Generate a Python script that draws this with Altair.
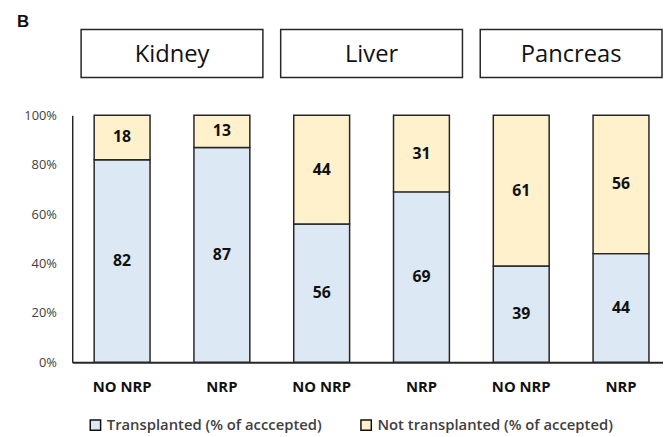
import altair as alt
import pandas as pd

# ---- data ----
organs = ["Kidney", "Kidney", "Liver", "Liver", "Pancreas", "Pancreas"]
groups = ["NO NRP", "NRP", "NO NRP", "NRP", "NO NRP", "NRP"]
transplanted = [82, 87, 56, 69, 39, 44]
not_transplanted = [18, 13, 44, 31, 61, 56]
organ_names = ["Kidney", "Liver", "Pancreas"]
group_names = ["NO NRP", "NRP"]
status_names = ["Transplanted (% of acccepted)", "Not transplanted (% of accepted)"]
y_ticks = [0, 20, 40, 60, 80, 100]

rows = []
for o, g, t, n in zip(organs, groups, transplanted, not_transplanted):
    rows.append({"organ": o, "group": g, "status": status_names[0], "value": t, "ord": 0})
    rows.append({"organ": o, "group": g, "status": status_names[1], "value": n, "ord": 1})
df = pd.DataFrame(rows)
hdr = pd.DataFrame({"organ": organ_names})
lab = pd.DataFrame({"organ": organs, "group": groups})

FONT = "Open Sans"
BLUE = "#DDE8F5"
YELLOW = "#FFF1CC"
EDGE = "#262626"

x_enc = alt.X("organ:N", sort=organ_names,
              scale=alt.Scale(range=[0, 606], paddingInner=0, paddingOuter=0),
              axis=alt.Axis(title=None, labels=False, ticks=False, domainColor=EDGE,
                            domainWidth=2, grid=False))
xo_enc = alt.XOffset("group:N", sort=group_names,
                     scale=alt.Scale(paddingInner=0.44, paddingOuter=0.22))

base = alt.Chart(df).transform_stack(
    stack="value", as_=["y0", "y1"], groupby=["organ", "group"],
    sort=[alt.SortField("ord")]
).transform_calculate(mid="(datum.y0 + datum.y1) / 2")

bars = base.mark_bar(stroke=EDGE, strokeWidth=1.5).encode(
    x=x_enc,
    xOffset=xo_enc,
    y=alt.Y("y0:Q", scale=alt.Scale(domain=[0, 100], nice=False),
            axis=alt.Axis(title=None, values=y_ticks, labelExpr="datum.value + '%'",
                          ticks=False, grid=False, domainColor=EDGE, domainWidth=1.5,
                          labelPadding=16, labelFontSize=13, labelColor="#404040",
                          labelFont=FONT)),
    y2="y1:Q",
    color=alt.Color("status:N", sort=status_names,
                    scale=alt.Scale(domain=status_names, range=[BLUE, YELLOW]),
                    legend=alt.Legend(title=None, orient="none", direction="horizontal",
                                      legendX=16, legendY=306, symbolType="square",
                                      symbolSize=110, symbolStrokeColor="#111",
                                      symbolStrokeWidth=1.5, labelFontSize=15,
                                      labelFont=FONT, labelColor="#404040",
                                      labelFontWeight=600, labelLimit=400,
                                      columnPadding=36, symbolOpacity=1)),
)

values = base.mark_text(fontSize=16, fontWeight="bold", font=FONT, color="#111",
                        baseline="middle").encode(
    x=x_enc, xOffset=xo_enc, y="mid:Q", text="value:Q"
)

cat_labels = alt.Chart(lab).mark_text(fontSize=15, fontWeight="bold", font=FONT,
                                      color="#111", baseline="middle").encode(
    x=x_enc, xOffset=xo_enc, y=alt.datum(-10.1), text="group:N"
)

hdr_box = alt.Chart(hdr).mark_bar(width=184, fill="white", stroke=EDGE,
                                  strokeWidth=1.5).encode(
    x=x_enc, y=alt.datum(115.3), y2=alt.datum(134.7)
)
hdr_text = alt.Chart(hdr).mark_text(fontSize=24, font=FONT, color="#111",
                                    baseline="middle").encode(
    x=x_enc, y=alt.datum(124.5), text="organ:N"
)

chart = alt.layer(bars, values, cat_labels, hdr_box, hdr_text).properties(
    width=598, height=250,
    autosize=alt.AutoSizeParams(type="none"),
    padding={"left": 65, "top": 106, "right": 0, "bottom": 73},
    title=alt.TitleParams("B", anchor="start", frame="group", dx=-56, dy=6,
                          fontSize=17, fontWeight="bold", font="Liberation Sans",
                          color="#111"),
).configure_view(stroke=None).configure_scale(bandWithNestedOffsetPaddingInner=0,
                                             bandWithNestedOffsetPaddingOuter=0)

chart.save("out.html", embed_options={"renderer": "svg", "actions": False})
